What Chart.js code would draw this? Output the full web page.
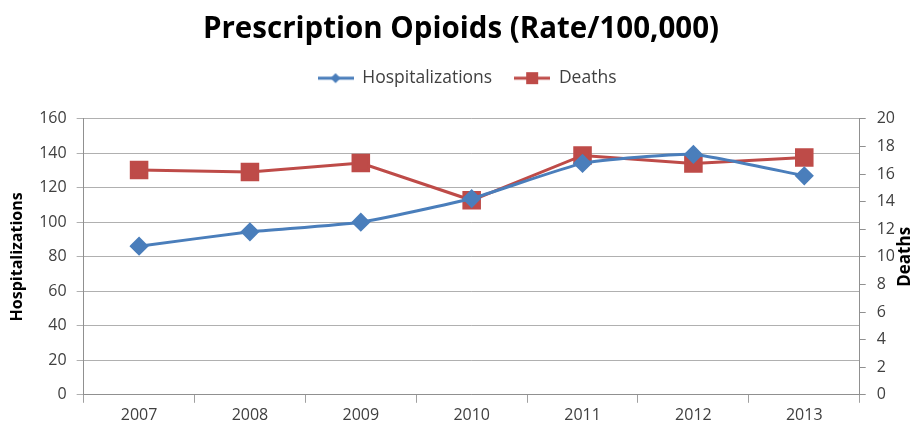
<!DOCTYPE html>
<html>
<head>
<meta charset="utf-8">
<script src="https://cdn.jsdelivr.net/npm/chart.js@4/dist/chart.umd.min.js"></script>
<style>
  html, body { margin: 0; padding: 0; background: #fff; }
  #wrap { width: 920px; height: 428px; }
</style>
</head>
<body>
<div id="wrap"><canvas id="myChart"></canvas></div>
<script>
// chart data
const years = ['2007', '2008', '2009', '2010', '2011', '2012', '2013'];
const hospitalizations = [86.2, 94.5, 100.1, 113.8, 134.2, 139.4, 127];
const deaths = [16.3, 16.15, 16.8, 14.1, 17.35, 16.77, 17.2];
const leftTicks = [0, 20, 40, 60, 80, 100, 120, 140, 160];
const rightTicks = [0, 2, 4, 6, 8, 10, 12, 14, 16, 18, 20];

const BLUE = '#4a7ebb';
const RED = '#be4b48';
const TEXT = '#404040';
const FONT = 'Open Sans';

// legend icon: short line with marker in the middle
function legendIcon(color, shape) {
    var c = document.createElement('canvas');
    c.width = 36; c.height = 16;
    var g = c.getContext('2d');
    g.strokeStyle = color;
    g.lineWidth = 3;
    g.beginPath();
    g.moveTo(0, 8); g.lineTo(36, 8);
    g.stroke();
    g.fillStyle = color;
    g.beginPath();
    if (shape === 'diamond') {
        g.moveTo(18, 3); g.lineTo(23, 8); g.lineTo(18, 13); g.lineTo(13, 8);
    } else {
        g.rect(12, 2, 12, 12);
    }
    g.closePath();
    g.fill();
    return c;
}

// extra room under the legend, and nudge title/legend a bit right like the original
const legendMargin = {
    id: 'legendMargin',
    beforeInit(chart) {
        var fit = chart.legend.fit;
        chart.legend.fit = function () {
            fit.bind(chart.legend)();
            this.height += 22;
        };
    },
    afterLayout(chart) {
        chart.legend.left += 10;
        chart.legend.right += 10;
        chart.titleBlock.left += 4;
        chart.titleBlock.right += 4;
    }
};

// right axis title reads bottom-to-top like the left one
const rightTitle = {
    id: 'rightTitle',
    afterDraw(chart) {
        var ctx = chart.ctx;
        var area = chart.chartArea;
        ctx.save();
        ctx.translate(905, (area.top + area.bottom) / 2);
        ctx.rotate(-Math.PI / 2);
        ctx.fillStyle = '#000';
        ctx.font = 'bold 17px "' + FONT + '"';
        ctx.textAlign = 'center';
        ctx.textBaseline = 'middle';
        ctx.fillText('Deaths', 0, 0);
        ctx.restore();
    }
};

var ctx = document.getElementById('myChart').getContext('2d');

new Chart(ctx, {
    type: 'line',
    data: {
        labels: years,
        datasets: [{
            label: 'Hospitalizations',
            data: hospitalizations,
            yAxisID: 'y',
            borderColor: BLUE,
            backgroundColor: BLUE,
            borderWidth: 3,
            pointStyle: 'rectRot',
            pointRadius: 7.5,
            pointHoverRadius: 7.5,
            tension: 0.15,
            legendIcon: legendIcon(BLUE, 'diamond')
        }, {
            label: 'Deaths',
            data: deaths,
            yAxisID: 'y1',
            borderColor: RED,
            backgroundColor: RED,
            borderWidth: 3,
            pointStyle: 'rect',
            pointRadius: 11,
            pointHoverRadius: 11,
            tension: 0,
            legendIcon: legendIcon(RED, 'square')
        }]
    },
    options: {
        responsive: true,
        maintainAspectRatio: false,
        animation: false,
        layout: { padding: { left: 8, right: 14, top: 6, bottom: 0 } },
        plugins: {
            title: {
                display: true,
                text: 'Prescription Opioids (Rate/100,000)',
                color: '#000',
                font: { family: FONT, size: 29.5, weight: 'bold' },
                padding: { top: 6, bottom: 0 }
            },
            legend: {
                position: 'top',
                labels: {
                    usePointStyle: true,
                    pointStyleWidth: 36,
                    color: TEXT,
                    font: { family: FONT, size: 17.5 },
                    padding: 22,
                    generateLabels(chart) {
                        return chart.data.datasets.map(function (ds, i) {
                            return {
                                text: ds.label,
                                pointStyle: ds.legendIcon,
                                fontColor: TEXT,
                                datasetIndex: i,
                                lineWidth: 0,
                                strokeStyle: 'transparent',
                                fillStyle: ds.borderColor
                            };
                        });
                    }
                }
            },
            tooltip: { enabled: false }
        },
        scales: {
            x: {
                offset: true,
                grid: {
                    offset: true,
                    drawOnChartArea: false,
                    color: '#a0a0a0',
                    tickLength: 8
                },
                border: { color: '#909090', width: 1 },
                ticks: {
                    color: TEXT,
                    font: { family: FONT, size: 16 },
                    padding: 3
                }
            },
            y: {
                position: 'left',
                min: 0,
                max: 160,
                afterBuildTicks(axis) { axis.ticks = leftTicks.map(v => ({ value: v })); },
                grid: { color: '#b0b0b0', tickLength: 7 },
                border: { color: '#909090' },
                ticks: {
                    color: TEXT,
                    font: { family: FONT, size: 16 },
                    padding: 10
                },
                title: {
                    display: true,
                    text: 'Hospitalizations',
                    color: '#000',
                    font: { family: FONT, size: 16, weight: 'bold' },
                    padding: { top: 0, bottom: 2 }
                }
            },
            y1: {
                position: 'right',
                min: 0,
                max: 20,
                afterBuildTicks(axis) { axis.ticks = rightTicks.map(v => ({ value: v })); },
                grid: { drawOnChartArea: false, color: '#909090', tickLength: 6 },
                border: { color: '#909090' },
                ticks: {
                    color: TEXT,
                    font: { family: FONT, size: 16 },
                    padding: 11
                }
            }
        }
    },
    plugins: [legendMargin, rightTitle]
});
</script>
</body>
</html>
